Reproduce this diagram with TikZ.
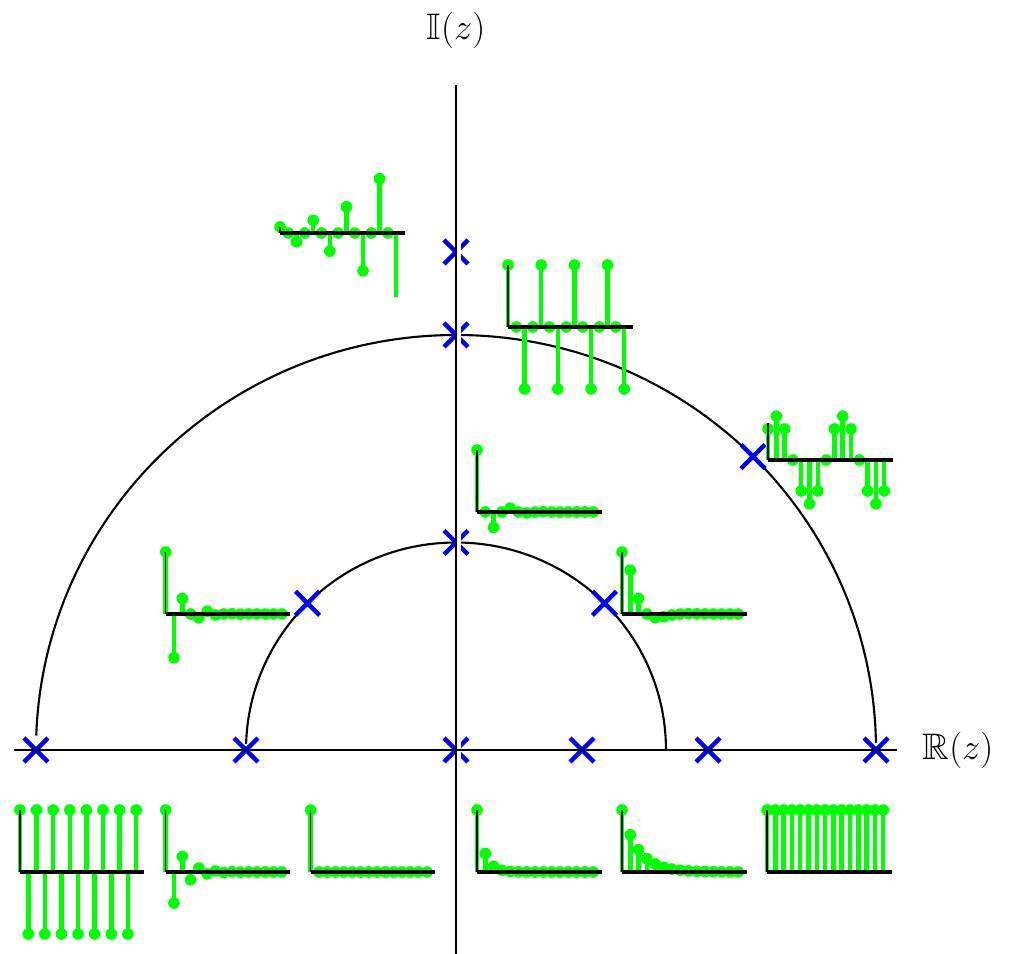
\documentclass[tikz,border=0pt]{standalone}
\usepackage{amsmath}
\usepackage{amssymb}
\usepackage{tikz}
\usetikzlibrary{
    shapes.misc,
    positioning
}
\definecolor{stemgreen}{RGB}{0,255,0}
\definecolor{poleblue}{RGB}{0,0,255}
\tikzset{
  pole/.style    = {cross out, draw=poleblue, line width=2.5pt,
                    minimum size=0.48cm, inner sep=0pt, outer sep=0pt},
  stem/.style    = {stemgreen, line width=2.6pt},
  tip/.style     = {fill=stemgreen},
  saxis/.style   = {black, line width=0.9pt},
  sbase/.style   = {black, line width=2.4pt},
  zaxis/.style   = {black, line width=1.4pt},
  ucirc/.style   = {black, line width=1.2pt}
}
% #1 origin, #2 h[n] in \n, #3 px per unit, #4 height of small axis
\newcommand{\stemplot}[4]{
  \foreach \n in {0,...,14}{
    \pgfmathsetmacro{\h}{(#3)*(#2)}
    \draw[stem] (#1) ++(\n*8.3,0) -- ++(0,\h);
    \fill[tip] (#1) ++(\n*8.3,\h) circle[radius=5.8];
  }
  \draw[saxis] (#1) -- ++(0,#4);
  \draw[sbase] (#1) -- ++(124.5,0);
}

\begin{document}
\begin{tikzpicture}[x=0.02cm, y=0.02cm,
        lbl/.style={font=\fontsize{21}{25}\selectfont}
      ]
      \useasboundingbox (-456,-203) rectangle (554,750);

      % unit circle and half circle
      \draw[ucirc] (1:420 and 415) arc[start angle=1, end angle=178,
            x radius=420, y radius=415];
      \draw[ucirc] (0.3:210 and 207.5) arc[start angle=0.3, end angle=178.3,
            x radius=210, y radius=207.5];

      % poles
      \foreach \r/\a/\nm in {1/180/pa, 0.5/180/pb, 0/0/pc, 0.3/0/pd,
            0.6/0/pe, 1/0/pf, 0.5/90/pg, 1/90/ph, 1.2/90/pi,
            0.5/135/pj, 0.5/45/pk, 1/45/pl}
        \node[pole] (\nm) at ({420*\r*cos(\a)},{415*\r*sin(\a)}) {};
      \foreach \nm in {pc, pg, ph, pi}
        \draw[white, line width=2.3pt] (\nm) ++(3,-16) -- ++(0,32);

      \coordinate (xl) at (-442,0);
      \coordinate (xr) at (441,0);
      \coordinate (yb) at (0,-210);
      \coordinate (yt) at (0,665);
      \draw[zaxis] (xl) -- (xr);
      \draw[zaxis] (yb) -- (yt);
      \node[lbl] (re) at (502,0) {$\mathbb{R}(z)$};
      \node[lbl] (im) at (0,720) {$\mathbb{I}(z)$};

      % impulse responses, real poles
      \coordinate (sa) at (-436,-122);
      \coordinate (sb) at (-290.3,-122);
      \coordinate (sc) at (-145.3,-122);
      \coordinate (sd) at (21,-122);
      \coordinate (se) at (166,-122);
      \coordinate (sf) at (311,-122);
      \stemplot{sa}{cos(180*\n)}{62}{62}
      \stemplot{sb}{cos(180*\n)*pow(0.5,\n)}{62}{62}
      \stemplot{sc}{(\n==0)}{62}{62}
      \stemplot{sd}{pow(0.3,\n)}{62}{62}
      \stemplot{se}{pow(0.6,\n)}{62}{62}
      \stemplot{sf}{1}{62}{62}

      % complex pole pairs
      \coordinate (sj) at (-290.3,136);
      \coordinate (sk) at (166,136);
      \coordinate (sg) at (21,238);
      \coordinate (sl) at (312,290);
      \coordinate (sh) at (52,423);
      \coordinate (si) at (-176,517);
      \stemplot{sj}{pow(0.5,\n)*sin((\n+1)*135)/sin(135)}{62}{62}
      \stemplot{sk}{pow(0.5,\n)*sin((\n+1)*45)/sin(45)}{62}{62}
      \stemplot{sg}{pow(0.5,\n)*sin((\n+1)*90)}{62}{62}
      \stemplot{sl}{sin((\n+1)*45)/sin(45)}{31}{37}
      \stemplot{sh}{sin((\n+1)*90)}{62}{62}
      \begin{scope}
        \clip (si) ++(-10,-64) rectangle ++(150,140);
        \stemplot{si}{pow(1.2,\n)*sin((\n+1)*90)}{6.1}{6}
      \end{scope}
    \end{tikzpicture}
\end{document}
